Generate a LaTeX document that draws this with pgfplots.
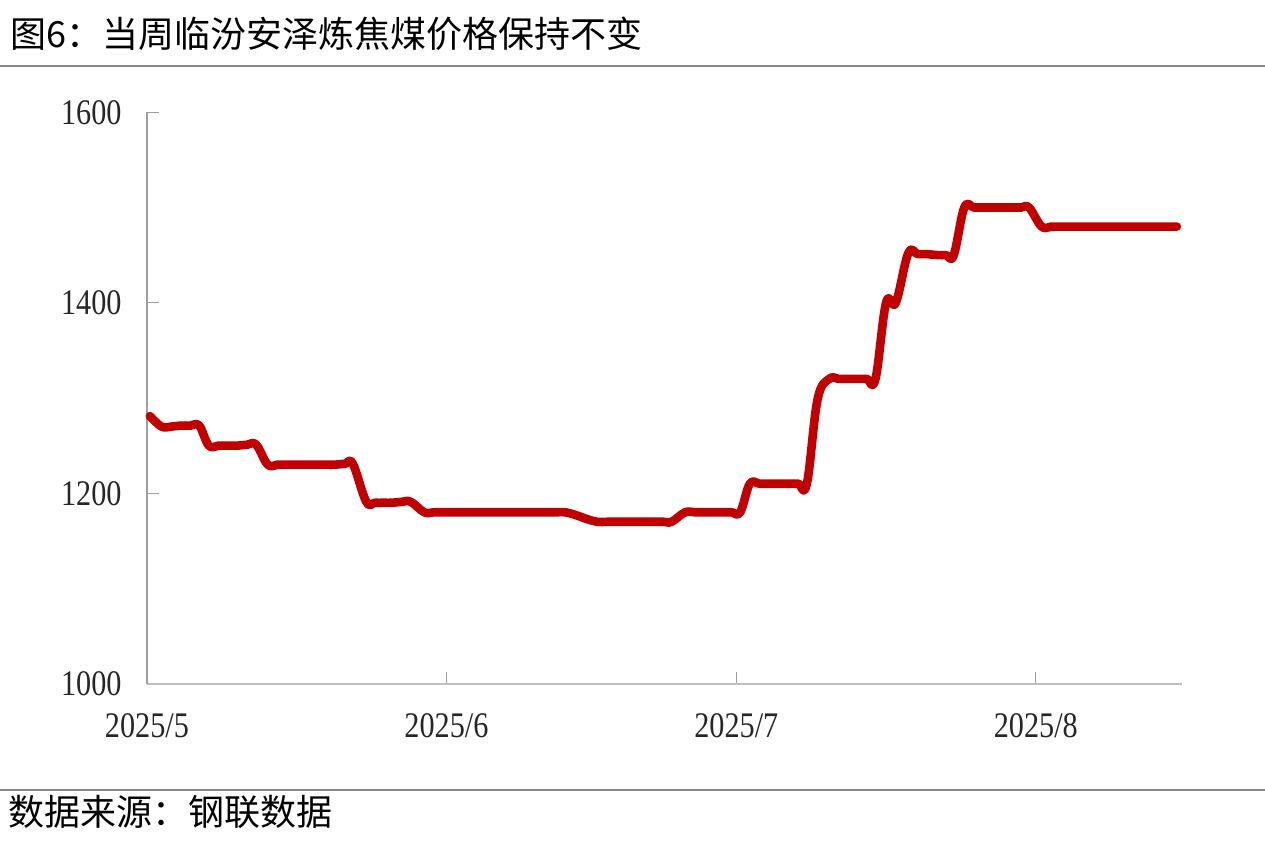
\documentclass[border=0pt]{standalone}
\usepackage{fontspec}
\setmainfont{Liberation Serif}[FakeStretch=0.84]
\newfontfamily\cjk{Noto Sans CJK SC}
\usepackage{pgfplots}
\pgfplotsset{compat=1.18}
\definecolor{linered}{RGB}{192,0,0}
\definecolor{labelgray}{RGB}{38,38,38}
\begin{document}
\begin{tikzpicture}
\path[use as bounding box] (0,0) rectangle (632.5pt,428pt);
% title and source rules
\draw[gray!95, line width=1pt] (0,395.15pt) -- (632.5pt,395.15pt);
\draw[gray!95, line width=1pt] (0,33pt) -- (632.5pt,33pt);
\node[anchor=base west, inner sep=0pt] at (5pt,404pt) {\cjk\fontsize{18}{18}\selectfont 图6：当周临汾安泽炼焦煤价格保持不变};
\node[anchor=base west, inner sep=0pt] at (4pt,15pt) {\cjk\fontsize{18}{18}\selectfont 数据来源：钢联数据};
\begin{axis}[
    at={(73.5pt,86.15pt)}, anchor=south west,
    scale only axis,
    width=517.35pt, height=285.7pt,
    xmin=0, xmax=107.1,
    ymin=1000, ymax=1600,
    axis lines=left,
    axis line style={-},
    x axis line style={draw=black!25, line width=1pt},
    y axis line style={draw=black!38, line width=0.7pt},
    xtick={0,31,61,92},
    xticklabels={2025/5,2025/6,2025/7,2025/8},
    ytick={1000,1200,1400,1600},
    yticklabels={1000,1200,1400,1600},
    scaled y ticks=false,
    tick align=inside,
    major tick length=6pt,
    major tick style={draw=black!38, line width=0.6pt},
    tick label style={font=\fontsize{18}{18}\selectfont, text=labelgray},
    xticklabel style={anchor=north, inner sep=0pt, yshift=-14.5pt},
    yticklabel style={anchor=east, inner sep=0pt, xshift=-12.5pt},
    clip=false,
]
% days from 2025/5/1
\addplot[color=linered, line width=4.3pt, smooth, tension=0.65, line cap=round, line join=round] coordinates {
    (0.3,1281)
    (1.5,1270) (2.5,1270) (3.5,1271) (4.5,1271) (5.4,1271)
    (6.4,1250) (7.4,1250) (8.4,1250) (9.4,1250) (10.4,1251) (11.3,1251)
    (12.5,1230) (13.5,1230) (14.5,1230) (15.5,1230) (16.5,1230) (17.5,1230)
    (18.5,1230) (19.5,1230) (20.5,1231) (21.3,1231)
    (22.7,1191) (23.6,1190) (24.5,1190) (25.4,1190) (26.4,1191) (27.3,1191)
    (28.7,1180) (29.7,1180) (30.7,1180) (31.7,1180) (32.7,1180) (33.7,1180)
    (34.7,1180) (35.7,1180) (36.7,1180) (37.7,1180) (38.7,1180) (39.7,1180)
    (40.7,1180) (41.7,1180) (42.5,1180) (43.3,1180)
    (44.4,1177) (45.5,1173)
    (46.6,1170) (47.6,1170) (48.6,1170) (49.6,1170) (50.6,1170) (51.6,1170)
    (52.6,1170) (53.5,1170) (54.3,1170)
    (55.7,1180) (56.7,1180) (57.7,1180) (58.7,1180) (59.6,1180) (60.5,1180) (61.4,1180)
    (62.4,1210) (63.4,1210) (64.4,1210) (65.4,1210) (66.4,1210) (67.4,1210) (68.3,1210)
    (69.4,1298) (70.6,1320) (71.6,1320) (72.6,1320) (73.6,1320) (74.5,1320) (75.4,1320)
    (76.5,1400) (77.5,1400)
    (78.8,1452) (79.8,1451) (80.8,1451) (81.8,1450) (82.7,1450) (83.5,1450)
    (84.6,1500) (85.6,1500) (86.6,1500) (87.6,1500) (88.6,1500) (89.6,1500)
    (90.5,1500) (91.3,1500)
    (92.6,1480) (93.6,1480) (94.6,1480) (95.6,1480) (96.6,1480) (97.6,1480)
    (98.6,1480) (99.6,1480) (100.6,1480) (101.6,1480) (102.6,1480) (103.6,1480)
    (104.6,1480) (105.6,1480) (106.6,1480)
};
\end{axis}
\end{tikzpicture}
\end{document}
